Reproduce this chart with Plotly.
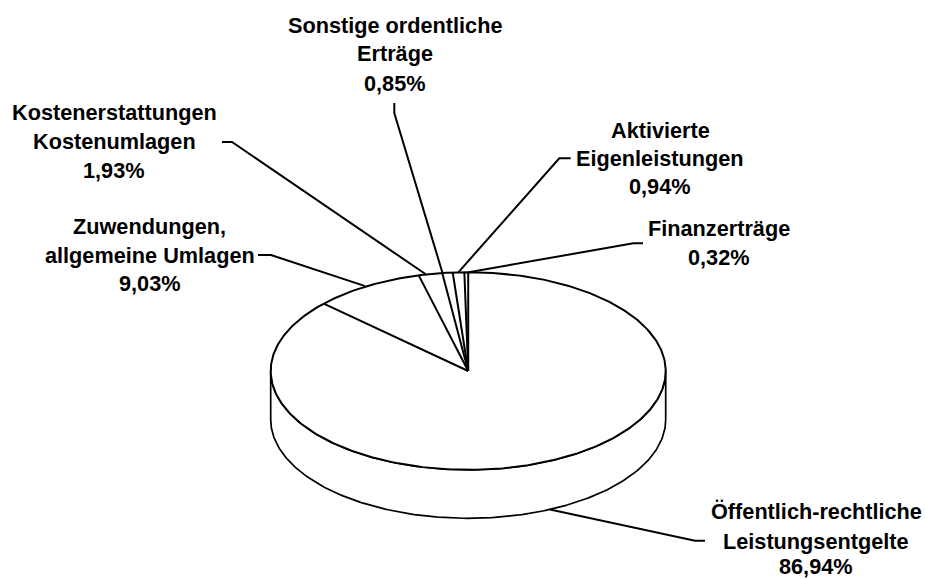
import numpy as np
import plotly.graph_objects as go

categories = ["Öffentlich-rechtliche Leistungsentgelte", "Zuwendungen, allgemeine Umlagen",
              "Kostenerstattungen Kostenumlagen", "Sonstige ordentliche Erträge",
              "Aktivierte Eigenleistungen", "Finanzerträge"]
shares = [86.94, 9.03, 1.93, 0.85, 0.94, 0.32]
share_labels = ["86,94%", "9,03%", "1,93%", "0,85%", "0,94%", "0,32%"]
label_lines = [["Öffentlich-rechtliche", "Leistungsentgelte"], ["Zuwendungen,", "allgemeine Umlagen"],
               ["Kostenerstattungen", "Kostenumlagen"], ["Sonstige ordentliche", "Erträge"],
               ["Aktivierte", "Eigenleistungen"], ["Finanzerträge"]]

W, H = 925, 579
CX, CY, RX, RY, DEPTH = 468.2, 371.0, 197.5, 98.8, 48.5
LW = 2.0
label_pos = [(816, [511, 541, 566]), (149.5, [226, 255, 283]), (114, [112, 141, 170]),
             (395, [25, 53, 83]), (660, [130, 158, 186]), (719, [228, 257])]
# leader bends: outer end, knee
leaders = [[(705, 540.7), (695, 540.7)], [(258, 255), (271, 255)], [(222, 142), (232, 142)],
           [(394.3, 103), (394.3, 113)], [(570.7, 158.3), (559.3, 158.3)], [(643, 243.3), (633.3, 243.3)]]
anchor_shift = [None, -2, -5, -5, -0.2, 2.3]


def rim(pct, dy=0.0):
    a = np.deg2rad(np.asarray(pct) * 3.6)
    return CX + RX * np.sin(a), CY - RY * np.cos(a) + dy


fig = go.Figure()


def line(x, y, fill=None, w=LW):
    fig.add_trace(go.Scatter(x=list(x), y=list(y), mode="lines", line=dict(color="black", width=w),
                             fill="toself" if fill else None, fillcolor=fill, hoverinfo="skip", showlegend=False))


edges = np.cumsum([0] + shares)
t = np.linspace(25, 75, 200)
tx, ty = rim(t)
bx, by = rim(t, DEPTH)
line(np.r_[tx, bx[::-1], tx[0]], np.r_[ty, by[::-1], ty[0]], fill="white", w=1.7)
line(*rim(np.linspace(0, 100, 500)), fill="white")
for e in edges[:-1]:
    ex, ey = rim(e)
    line([CX, ex], [CY, ey])

mids = (edges[:-1] + edges[1:]) / 2
for i, (pts, m) in enumerate(zip(leaders, mids)):
    if i == 0:
        # the large slice's leader starts on the bottom rim of the wall
        ax = 550.0
        ay = CY + DEPTH + RY * np.sqrt(1 - ((ax - CX) / RX) ** 2)
    else:
        ax, ay = rim(m)
        ax += anchor_shift[i]
    line([p[0] for p in pts] + [ax], [p[1] for p in pts] + [ay])

anns = []
for lines, pct, (x, ys) in zip(label_lines, share_labels, label_pos):
    for txt, y in zip(lines + [pct], ys):
        anns.append(dict(x=x, y=y, xref="x", yref="y", text=txt, showarrow=False, xanchor="center", yanchor="middle",
                         font=dict(family="Liberation Sans", size=21.7, color="black", weight="bold")))

fig.update_layout(width=W, height=H, margin=dict(l=0, r=0, t=0, b=0),
                  paper_bgcolor="white", plot_bgcolor="white", showlegend=False, annotations=anns,
                  xaxis=dict(range=[0, W], visible=False, fixedrange=True),
                  yaxis=dict(range=[H, 0], visible=False, fixedrange=True))
fig.write_html("out.html", config={"displayModeBar": False},
               post_script="document.body.style.margin='0';document.documentElement.style.overflow='hidden';")
